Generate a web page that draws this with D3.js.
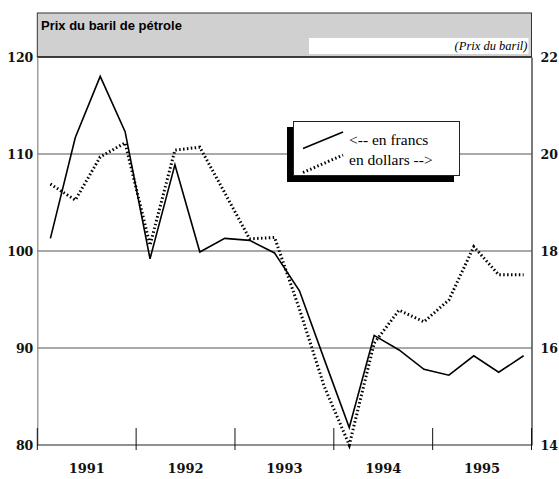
<!DOCTYPE html>
<html>
<head>
<meta charset="utf-8">
<script src="https://cdn.jsdelivr.net/npm/d3@7/dist/d3.min.js"></script>
<style>
html,body{margin:0;padding:0;background:#fff;}
svg{display:block;}
</style>
</head>
<body>
<script>
const years = ["1991","1992","1993","1994","1995"];
const quarters = ["T1","T2","T3","T4"];
const categories = years.flatMap(y => quarters.map(q => y + q));
const francs = [101.3,111.7,118.0,112.3,99.2,108.9,99.9,101.3,101.1,99.8,95.9,88.8,81.8,91.3,89.8,87.8,87.2,89.2,87.5,89.2];
const dollars = [19.38,19.05,19.94,20.23,18.12,20.08,20.14,19.2,18.25,18.28,16.8,15.2,14.0,16.1,16.78,16.54,16.99,18.09,17.51,17.51];
const leftTicks = [80,90,100,110,120];
const rightTicks = [14,16,18,20,22];
const title = "Prix du baril de pétrole";
const subtitle = "(Prix du baril)";
const legendLabels = ["<-- en francs","en dollars -->"];

const W = 559, H = 479;
const L = 37.3, R = 531.5, T = 57, B = 445;

const svg = d3.select("body").append("svg").attr("width", W).attr("height", H);

const x = d3.scalePoint().domain(categories).range([50.4, 523.6]);
const xYear = d3.scaleBand().domain(years).range([L, R]).padding(0);
const yF = d3.scaleLinear().domain([80,120]).range([B, T]);
const yD = d3.scaleLinear().domain([14,22]).range([B, T]);

// title box
svg.append("rect").attr("x", L).attr("y", 13).attr("width", R - L).attr("height", T - 13)
  .attr("fill", "#d0d0d0").attr("stroke", "#333").attr("stroke-width", 1);
svg.append("rect").attr("x", 309).attr("y", 38).attr("width", R - 3 - 309).attr("height", 16)
  .attr("fill", "#fff");
svg.append("text").attr("x", 41).attr("y", 30).text(title)
  .attr("font-family", "Liberation Sans, Arial, sans-serif").attr("font-weight", "bold").attr("font-size", 13).attr("fill", "#000");
svg.append("text").attr("x", R - 4).attr("y", 50).attr("text-anchor", "end").text(subtitle)
  .attr("font-family", "Liberation Serif, serif").attr("font-style", "italic").attr("font-size", 12.5).attr("fill", "#000");

// gridlines
svg.append("g").selectAll("line").data(leftTicks.filter(d => d > 80 && d < 120)).join("line")
  .attr("x1", L).attr("x2", R).attr("y1", d => yF(d)).attr("y2", d => yF(d))
  .attr("stroke", "#555").attr("stroke-width", 1);
// top border line
svg.append("line").attr("x1", L).attr("x2", R).attr("y1", T).attr("y2", T).attr("stroke", "#222").attr("stroke-width", 1.6);

// left axis
const gL = svg.append("g").attr("transform", `translate(${L},0)`)
  .call(d3.axisLeft(yF).tickValues(leftTicks).tickSize(0).tickPadding(4));
gL.select(".domain").attr("stroke", "#888").attr("stroke-width", 1.2);
gL.selectAll("text").attr("font-family", "DejaVu Serif, serif").attr("font-weight", "bold").attr("font-size", 12.5).attr("fill", "#111");

// right axis
const gR = svg.append("g").attr("transform", `translate(${R},0)`)
  .call(d3.axisRight(yD).tickValues(rightTicks).tickSize(0).tickPadding(9));
gR.select(".domain").attr("stroke", "#222").attr("stroke-width", 1.2);
gR.selectAll("text").attr("font-family", "DejaVu Serif, serif").attr("font-weight", "bold").attr("font-size", 12.5).attr("fill", "#111");

// bottom axis
const boundaries = years.map(y => xYear(y)).concat([R]);
svg.append("line").attr("x1", L).attr("x2", R).attr("y1", B).attr("y2", B).attr("stroke", "#222").attr("stroke-width", 1.2);
svg.append("g").selectAll("line").data(boundaries).join("line")
  .attr("x1", d => d).attr("x2", d => d).attr("y1", B - 17).attr("y2", B + 5)
  .attr("stroke", "#111").attr("stroke-width", 1);
svg.append("g").selectAll("text").data(years).join("text")
  .attr("x", d => xYear(d) + xYear.bandwidth() / 2).attr("y", 473)
  .attr("text-anchor", "middle").text(d => d)
  .attr("font-family", "DejaVu Serif, serif").attr("font-weight", "bold").attr("font-size", 13).attr("fill", "#111");

// lines
const lineF = d3.line().x((d, i) => x(categories[i])).y(d => yF(d));
const lineD = d3.line().x((d, i) => x(categories[i])).y(d => yD(d));
svg.append("path").datum(dollars).attr("d", lineD).attr("fill", "none")
  .attr("stroke", "#000").attr("stroke-width", 3).attr("stroke-dasharray", "1.5,2.4");
svg.append("path").datum(francs).attr("d", lineF).attr("fill", "none")
  .attr("stroke", "#000").attr("stroke-width", 1.6).attr("stroke-linejoin", "miter");

// legend
const lg = svg.append("g");
lg.append("rect").attr("x", 287).attr("y", 127).attr("width", 167).attr("height", 55).attr("fill", "#000");
lg.append("rect").attr("x", 293.5).attr("y", 121.5).attr("width", 166).attr("height", 54)
  .attr("fill", "#fff").attr("stroke", "#222").attr("stroke-width", 1);
const legendLine = d3.line();
lg.append("path").attr("d", legendLine([[303, 148.5], [343, 132]])).attr("stroke", "#000").attr("stroke-width", 1.6).attr("fill", "none");
lg.append("path").attr("d", legendLine([[303, 172.5], [343, 155]])).attr("stroke", "#000").attr("stroke-width", 3).attr("stroke-dasharray", "1.5,2.4").attr("fill", "none");
lg.selectAll("text").data(legendLabels).join("text")
  .attr("x", 349).attr("y", (d, i) => 145 + i * 20).text(d => d)
  .attr("font-family", "Liberation Serif, serif").attr("font-size", 15.5).attr("fill", "#000");
</script>
</body>
</html>
